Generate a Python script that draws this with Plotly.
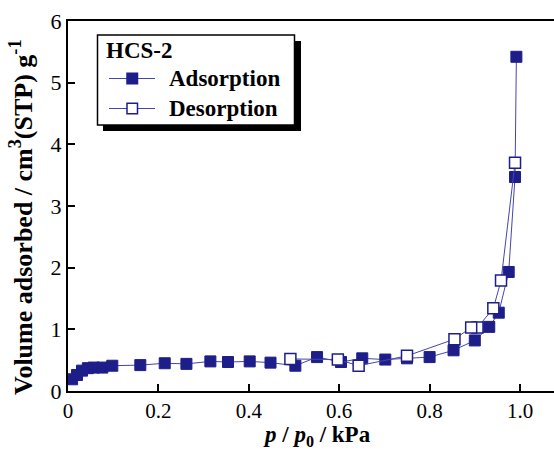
import plotly.graph_objects as go

# ---- data ----
ads_p = [0.009, 0.020, 0.031, 0.044, 0.057, 0.076, 0.098, 0.160, 0.214, 0.262,
         0.315, 0.354, 0.402, 0.448, 0.503, 0.551, 0.604, 0.651, 0.702, 0.750,
         0.800, 0.853, 0.900, 0.932, 0.953, 0.975, 0.989, 0.992]
ads_v = [0.19, 0.26, 0.33, 0.37, 0.38, 0.38, 0.41, 0.42, 0.45, 0.44,
         0.48, 0.47, 0.48, 0.46, 0.41, 0.55, 0.47, 0.53, 0.51, 0.53,
         0.55, 0.66, 0.82, 1.04, 1.27, 1.93, 3.47, 5.42]

des_p = [0.989, 0.958, 0.941, 0.906, 0.892, 0.855, 0.750, 0.643, 0.597, 0.492]
des_v = [3.70, 1.79, 1.34, 1.03, 1.03, 0.84, 0.57, 0.41, 0.51, 0.52]

x_ticks = [0, 0.2, 0.4, 0.6, 0.8, 1.0]
x_tick_labels = ["0", "0.2", "0.4", "0.6", "0.8", "1.0"]
y_ticks = [0, 1, 2, 3, 4, 5, 6]

legend_title = "HCS-2"
series_names = ["Adsorption", "Desorption"]

NAVY = "#1e1e8a"
LINE = "#4545b0"
FONT = "Liberation Serif"

fig = go.Figure()
fig.add_trace(go.Scatter(
    x=ads_p, y=ads_v, mode="lines+markers", name=series_names[0],
    line=dict(color=LINE, width=1),
    marker=dict(symbol="square", size=11, color=NAVY, line=dict(color=NAVY, width=1)),
))
fig.add_trace(go.Scatter(
    x=des_p, y=des_v, mode="lines+markers", name=series_names[1],
    line=dict(color=LINE, width=1),
    marker=dict(symbol="square", size=11, color="white", line=dict(color=NAVY, width=1.5)),
))

W, H = 554, 450
ML, MR, MT, MB = 68, 0, 21, 59
pw = W - ML - MR
ph = H - MT - MB


def fx(px):
    return (px - ML) / pw


def fy(py):
    return (H - MB - py) / ph


# ---- legend box drawn by hand (with drop shadow) ----
shapes = []
shapes.append(dict(type="rect", xref="paper", yref="paper",
                   x0=fx(103), x1=fx(301), y0=fy(131), y1=fy(41),
                   fillcolor="black", line=dict(width=0), layer="above"))
shapes.append(dict(type="rect", xref="paper", yref="paper",
                   x0=fx(97.5), x1=fx(294.5), y0=fy(125), y1=fy(35),
                   fillcolor="white", line=dict(color="black", width=1.5), layer="above"))
entry_y = [78.5, 108.5]
for i, yy in enumerate(entry_y):
    shapes.append(dict(type="line", xref="paper", yref="paper",
                       x0=fx(109), x1=fx(155), y0=fy(yy), y1=fy(yy),
                       line=dict(color=LINE, width=1), layer="above"))
    fill = NAVY if i == 0 else "white"
    shapes.append(dict(type="rect", xref="paper", yref="paper",
                       x0=fx(127), x1=fx(137.5), y0=fy(yy + 5.25), y1=fy(yy - 5.25),
                       fillcolor=fill, line=dict(color=NAVY, width=1.5), layer="above"))

annotations = []
annotations.append(dict(xref="paper", yref="paper", x=fx(104), y=fy(50.5),
                        text="<b>" + legend_title + "</b>", showarrow=False,
                        xanchor="left", yanchor="middle",
                        font=dict(family=FONT, size=23, color="black")))
for name, yy in zip(series_names, entry_y):
    annotations.append(dict(xref="paper", yref="paper", x=fx(167), y=fy(yy),
                            text="<b>" + name + "</b>", showarrow=False,
                            xanchor="left", yanchor="middle",
                            font=dict(family=FONT, size=23, color="black")))

# axis titles
annotations.append(dict(xref="paper", yref="paper", x=fx(317), y=fy(436),
                        text="<b><i>p</i> / <i>p</i><sub>0</sub> / kPa</b>", showarrow=False,
                        font=dict(family=FONT, size=23, color="black"),
                        xanchor="center", yanchor="middle"))
annotations.append(dict(xref="paper", yref="paper", x=fx(22), y=fy(217),
                        text="<b>Volume adsorbed / cm<sup>3</sup>(STP) g<sup>-1</sup></b>",
                        showarrow=False, textangle=-90,
                        font=dict(family=FONT, size=26, color="black"),
                        xanchor="center", yanchor="middle"))

fig.update_layout(
    width=W, height=H,
    margin=dict(l=ML, r=MR, t=MT, b=MB, autoexpand=False),
    paper_bgcolor="white", plot_bgcolor="white",
    font=dict(family=FONT, color="black", size=21),
    showlegend=False,
    shapes=shapes,
    annotations=annotations,
    xaxis=dict(
        range=[0, (W - ML) / 452.0], tickvals=x_ticks, ticktext=x_tick_labels,
        showline=True, linecolor="black", linewidth=2, mirror=True,
        ticks="inside", ticklen=7, tickwidth=1.5, tickcolor="black",
        showgrid=False, zeroline=False, automargin=False,
        tickfont=dict(family=FONT, size=21, color="black"),
    ),
    yaxis=dict(
        range=[0, 6], tickvals=y_ticks,
        showline=True, linecolor="black", linewidth=2, mirror=False,
        ticks="inside", ticklen=7, tickwidth=1.5, tickcolor="black",
        showgrid=False, zeroline=False, automargin=False,
        tickfont=dict(family=FONT, size=22, color="black"),
    ),
)

fig.write_html("out.html", config={"displayModeBar": False},
               post_script="document.body.style.margin='0px';")
